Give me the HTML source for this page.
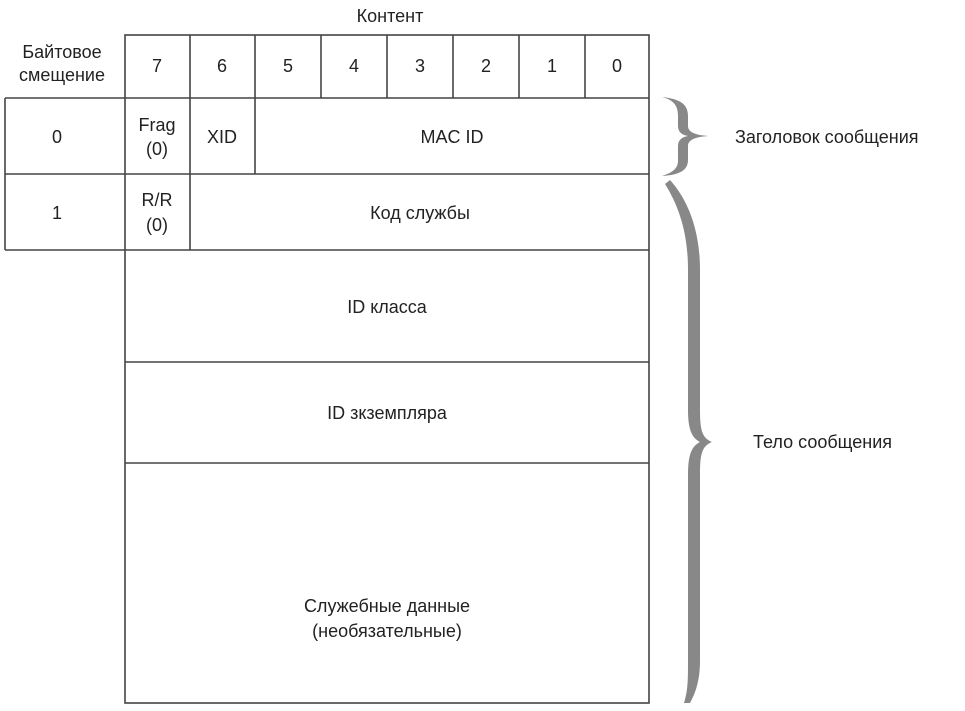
<!DOCTYPE html>
<html><head><meta charset="utf-8"><style>
body{margin:0;background:#fff;width:965px;height:706px;overflow:hidden;font-family:"Liberation Sans",sans-serif;}
</style></head><body>
<svg width="965" height="706" xmlns="http://www.w3.org/2000/svg" font-family="Liberation Sans, sans-serif" font-size="18" fill="#222">
<g stroke="#444" stroke-width="1.6" fill="none">
<rect x="125" y="35" width="524" height="668"/>
<line x1="125" y1="98" x2="649" y2="98"/>
<line x1="5" y1="98" x2="125" y2="98"/>
<line x1="5" y1="98" x2="5" y2="250"/>
<line x1="5" y1="174" x2="649" y2="174"/>
<line x1="5" y1="250" x2="649" y2="250"/>
<line x1="125" y1="362" x2="649" y2="362"/>
<line x1="125" y1="463" x2="649" y2="463"/>
<line x1="190" y1="35" x2="190" y2="250"/>
<line x1="255" y1="35" x2="255" y2="174"/>
<line x1="321" y1="35" x2="321" y2="98"/>
<line x1="387" y1="35" x2="387" y2="98"/>
<line x1="453" y1="35" x2="453" y2="98"/>
<line x1="519" y1="35" x2="519" y2="98"/>
<line x1="585" y1="35" x2="585" y2="98"/>
</g>
<g fill="#888">
<path d="M662,97 C680,99 688,104 688,116 L688,126 C688,132 695,135 708,136 C695,137 688,140 688,146 L688,160 C688,170 680,175 662,176 C674,172 678,168 678,160 L678,146 C678,140 682,137 688,136 C682,135 678,132 678,126 L678,116 C678,106 674,100 662,97Z"/>
<path d="M665,184 L670,180 C688,200 700,230 700,270 L700,410 C700,430 702,438 712,442 C702,446 700,454 700,474 L700,660 C700,680 696,692 690,703 L684,703 C688,690 688,680 688,660 L688,474 C688,454 692,446 700,442 C692,438 688,430 688,410 L688,270 C688,235 680,208 665,184Z"/>
</g>
<g text-anchor="middle">
<text x="390" y="22">Контент</text>
<text x="62" y="58">Байтовое</text>
<text x="62" y="81">смещение</text>
<text x="157" y="72">7</text><text x="222" y="72">6</text><text x="288" y="72">5</text><text x="354" y="72">4</text><text x="420" y="72">3</text><text x="486" y="72">2</text><text x="552" y="72">1</text><text x="617" y="72">0</text>
<text x="57" y="143">0</text>
<text x="157" y="131">Frag</text><text x="157" y="155">(0)</text>
<text x="222" y="143">XID</text>
<text x="452" y="143">MAC ID</text>
<text x="57" y="219">1</text>
<text x="157" y="206">R/R</text><text x="157" y="231">(0)</text>
<text x="420" y="219">Код службы</text>
<text x="387" y="313">ID класса</text>
<text x="387" y="419">ID зкземпляра</text>
<text x="387" y="612">Служебные данные</text>
<text x="387" y="637">(необязательные)</text>
</g>
<text x="735" y="143">Заголовок сообщения</text>
<text x="753" y="448">Тело сообщения</text>
</svg>
</body></html>
